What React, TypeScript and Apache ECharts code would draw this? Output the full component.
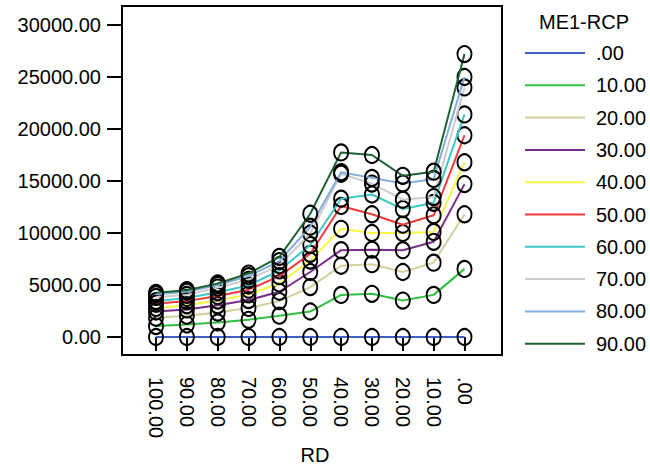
import React, { useEffect, useRef } from "react";
import * as echarts from "echarts";

const categories = ["100.00", "90.00", "80.00", "70.00", "60.00", "50.00", "40.00", "30.00", "20.00", "10.00", ".00"];

const seriesNames = [".00", "10.00", "20.00", "30.00", "40.00", "50.00", "60.00", "70.00", "80.00", "90.00"];

const seriesColors = ["#3f5fc8", "#30c040", "#d4cf9a", "#7b2d8c", "#f8f840", "#f03a3a", "#3cc8c8", "#cccccc", "#80aee0", "#1e6432"];

const s00 = [0, 0, 0, 0, 0, 0, 0, 0, 0, 0, 0];
const s10 = [1050, 1200, 1400, 1650, 2050, 2450, 4050, 4150, 3500, 4050, 6550];
const s20 = [1850, 2050, 2350, 2800, 3450, 4800, 6850, 7000, 6250, 7150, 11800];
const s30 = [2450, 2650, 3050, 3550, 4350, 6250, 8350, 8400, 8350, 9150, 14700];
const s40 = [2800, 3050, 3500, 4100, 5150, 7350, 10400, 10000, 10000, 10100, 16800];
const s50 = [3200, 3450, 3950, 4550, 5850, 8000, 12600, 11800, 10800, 11700, 19400];
const s60 = [3450, 3750, 4300, 4950, 6400, 8850, 13300, 13700, 12300, 12900, 21400];
const s70 = [3850, 4050, 4750, 5500, 6900, 9950, 15700, 14750, 13200, 13450, 24000];
const s80 = [4100, 4350, 5000, 5850, 7300, 10600, 15850, 15300, 14750, 15200, 25000];
const s90 = [4250, 4500, 5150, 6100, 7700, 11850, 17750, 17500, 15500, 15900, 27200];

const seriesValues = [s00, s10, s20, s30, s40, s50, s60, s70, s80, s90];

const yTicks = [0, 5000, 10000, 15000, 20000, 25000, 30000];

const FONT = "'Liberation Sans', Arial, sans-serif";

export default function App() {
  const ref = useRef<HTMLDivElement>(null);
  useEffect(() => {
    if (!ref.current) return;
    const chart = echarts.init(ref.current, undefined, { renderer: "svg" });
    chart.setOption({
      animation: false,
      backgroundColor: "#ffffff",
      textStyle: { fontFamily: FONT },
      grid: { left: 156, right: 185.5, top: 25, bottom: 132, containLabel: false },
      xAxis: {
        type: "category",
        data: categories,
        boundaryGap: false,
        offset: 18,
        axisLine: { show: false },
        axisTick: { show: true, alignWithLabel: true, length: 14, lineStyle: { color: "#000", width: 2 } },
        axisLabel: { rotate: -90, margin: 22, color: "#000", fontSize: 20, fontFamily: FONT, interval: 0 },
        splitLine: { show: false },
      },
      yAxis: {
        type: "value",
        min: yTicks[0],
        max: yTicks[yTicks.length - 1],
        interval: 5000,
        offset: 34,
        axisLine: { show: false },
        axisTick: { show: true, length: 15, lineStyle: { color: "#000", width: 2 } },
        axisLabel: { margin: 21, color: "#000", fontSize: 20, fontFamily: FONT, formatter: (v: number) => v.toFixed(2) },
        splitLine: { show: false },
      },
      legend: {
        orient: "vertical",
        left: 520,
        top: 38,
        itemWidth: 60,
        itemHeight: 2,
        itemGap: 12.3,
        textStyle: { fontSize: 20, color: "#000", fontFamily: FONT, lineHeight: 20, padding: [0, 0, 0, 6] },
        data: seriesNames.map((n, i) => ({ name: n, icon: "rect", itemStyle: { color: seriesColors[i], borderWidth: 0 } })),
      },
      graphic: [
        {
          type: "rect",
          shape: { x: 122, y: 6, width: 380, height: 349 },
          style: { fill: "none", stroke: "#000", lineWidth: 2 },
          z: 0,
          silent: true,
        },
        {
          type: "text",
          x: 584,
          y: 22,
          style: { text: "ME1-RCP", fontSize: 20, fontFamily: FONT, fill: "#000", textAlign: "center", textVerticalAlign: "middle" },
        },
        {
          type: "text",
          x: 315,
          y: 455,
          style: { text: "RD", fontSize: 20, fontFamily: FONT, fill: "#000", textAlign: "center", textVerticalAlign: "middle" },
        },
      ],
      series: seriesNames.map((n, i) => ({
        name: n,
        type: "line",
        data: seriesValues[i],
        symbol: "circle",
        symbolSize: [14, 16],
        showAllSymbol: true,
        lineStyle: { color: seriesColors[i], width: 2 },
        itemStyle: { color: "rgba(0,0,0,0)", borderColor: "#000", borderWidth: 2 },
        emphasis: { disabled: true },
        z: 2 + i,
      })),
    });
    return () => chart.dispose();
  }, []);
  return <div ref={ref} style={{ position: "fixed", left: 0, top: 0, width: 650, height: 469 }} />;
}
